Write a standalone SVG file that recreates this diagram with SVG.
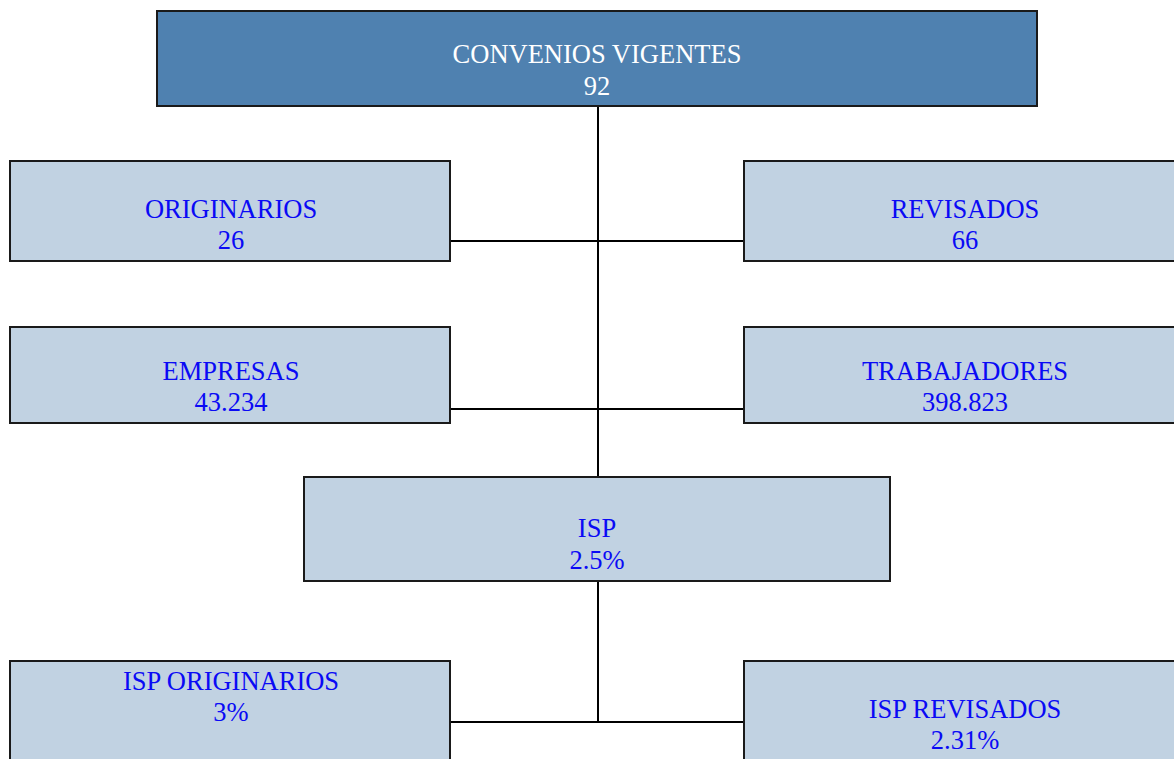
<svg xmlns="http://www.w3.org/2000/svg" width="1174" height="759" viewBox="0 0 1174 759">
<style>
.box{fill:#C1D2E2;stroke:#1a1a1a;stroke-width:2}
.top{fill:#4F81B0;stroke:#1a1a1a;stroke-width:2}
.t{font-family:"Liberation Serif","Times New Roman",serif;font-size:26.5px;text-anchor:middle;fill:#0A0AF5}
.tw{font-family:"Liberation Serif","Times New Roman",serif;font-size:26.5px;text-anchor:middle;fill:#FFFFFF}
.c{stroke:#000;stroke-width:2;fill:none}
</style>
<rect width="1174" height="759" fill="#FFFFFF"/>
<g id="connectors">
<line class="c" x1="598" y1="106" x2="598" y2="477"/>
<line class="c" x1="598" y1="581" x2="598" y2="722"/>
<line class="c" x1="450" y1="241" x2="744" y2="241"/>
<line class="c" x1="450" y1="409" x2="744" y2="409"/>
<line class="c" x1="450" y1="722" x2="744" y2="722"/>
</g>
<g id="convenios">
<rect class="top" x="157" y="11" width="880" height="95"/>
<text class="tw" x="597" y="63">CONVENIOS VIGENTES</text>
<text class="tw" x="597" y="95">92</text>
</g>
<g id="originarios">
<rect class="box" x="10" y="161" width="440" height="100"/>
<text class="t" x="231" y="218">ORIGINARIOS</text>
<text class="t" x="231" y="249">26</text>
</g>
<g id="revisados">
<rect class="box" x="744" y="161" width="442" height="100"/>
<text class="t" x="965" y="218">REVISADOS</text>
<text class="t" x="965" y="249">66</text>
</g>
<g id="empresas">
<rect class="box" x="10" y="327" width="440" height="96"/>
<text class="t" x="231" y="380">EMPRESAS</text>
<text class="t" x="231" y="411">43.234</text>
</g>
<g id="trabajadores">
<rect class="box" x="744" y="327" width="442" height="96"/>
<text class="t" x="965" y="380">TRABAJADORES</text>
<text class="t" x="965" y="411">398.823</text>
</g>
<g id="isp">
<rect class="box" x="304" y="477" width="586" height="104"/>
<text class="t" x="597" y="537">ISP</text>
<text class="t" x="597" y="569">2.5%</text>
</g>
<g id="isp-originarios">
<rect class="box" x="10" y="661" width="440" height="110"/>
<text class="t" x="231" y="690">ISP ORIGINARIOS</text>
<text class="t" x="231" y="721">3%</text>
</g>
<g id="isp-revisados">
<rect class="box" x="744" y="661" width="442" height="110"/>
<text class="t" x="965" y="718">ISP REVISADOS</text>
<text class="t" x="965" y="749">2.31%</text>
</g>
</svg>
